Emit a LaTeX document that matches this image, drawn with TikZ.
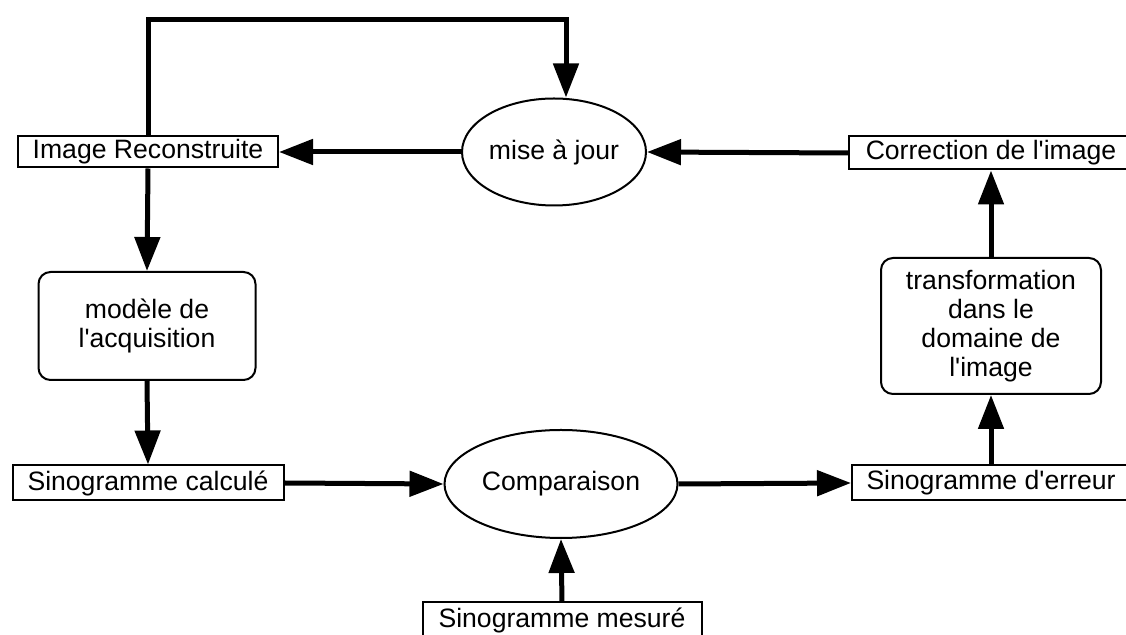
\documentclass[tikz,border=0pt]{standalone}
\usepackage{fontspec}
\setmainfont{Liberation Sans}[Ligatures=TeXOff]
\usepackage{tikz}
\usetikzlibrary{arrows.meta,shapes.geometric}

\begin{document}
\begin{tikzpicture}[x=0.5pt,y=-0.5pt,
		font=\fontsize{13.3}{14.5}\selectfont,
		box/.style={rectangle,draw,line width=1pt,inner sep=0pt},
		roundbox/.style={rectangle,rounded corners=6pt,draw,line width=1pt,inner sep=0pt,align=center},
		oval/.style={ellipse,draw,line width=1pt,inner sep=0pt},
		conn/.style={line width=2.5pt,-{Triangle[length=17pt,width=12.5pt]}}]
		\useasboundingbox (0,0) rectangle (1126,635);
		\clip (0,0) rectangle (1126,635);
%		\draw[help lines] (0,0) grid (1126,635);
		\path (566,20) coordinate (top);
		\path (148,152) node(recon) [box,minimum width=130pt,minimum height=15.5pt] {Image Reconstruite};
		\path (554,152) node(maj) [oval,minimum width=85.5pt,minimum height=53.5pt] {mise à jour};
		\path (991,153) node(correction) [box,minimum width=142pt,minimum height=16.5pt] {Correction de l'image};
		\path (147,326) node(modele) [roundbox,minimum width=108.5pt,minimum height=54pt] {modèle de\\l'acquisition};
		\path (991,326) node(transfo) [roundbox,minimum width=110pt,minimum height=68pt] {transformation\\dans le\\domaine de\\l'image};
		\path (148,483) node(calcule) [box,minimum width=135.5pt,minimum height=17.5pt] {Sinogramme calculé};
		\path (561,484) node(comp) [oval,minimum width=116.5pt,minimum height=54pt] {Comparaison};
		\path (991,483) node(erreur) [box,minimum width=139pt,minimum height=17.5pt] {Sinogramme d'erreur};
		\path (562,620) node(mesure) [box,minimum width=139.5pt,minimum height=17.5pt] {Sinogramme mesuré};

		\draw[conn] (recon.north) |- (top) -- (maj.north -| top);
		\draw[conn] (maj.west) -- (recon.east);
		\draw[conn] (correction.west) -- (maj.east);
		\draw[conn] (recon.south) -- (modele.north);
		\draw[conn] (modele.south) -- (calcule.north);
		\draw[conn] (calcule.east) -- (comp.west);
		\draw[conn] (comp.east) -- (erreur.west);
		\draw[conn] (mesure.north) -- (comp.south);
		\draw[conn] (erreur.north) -- (transfo.south);
		\draw[conn] (transfo.north) -- (correction.south);
	\end{tikzpicture}
\end{document}
